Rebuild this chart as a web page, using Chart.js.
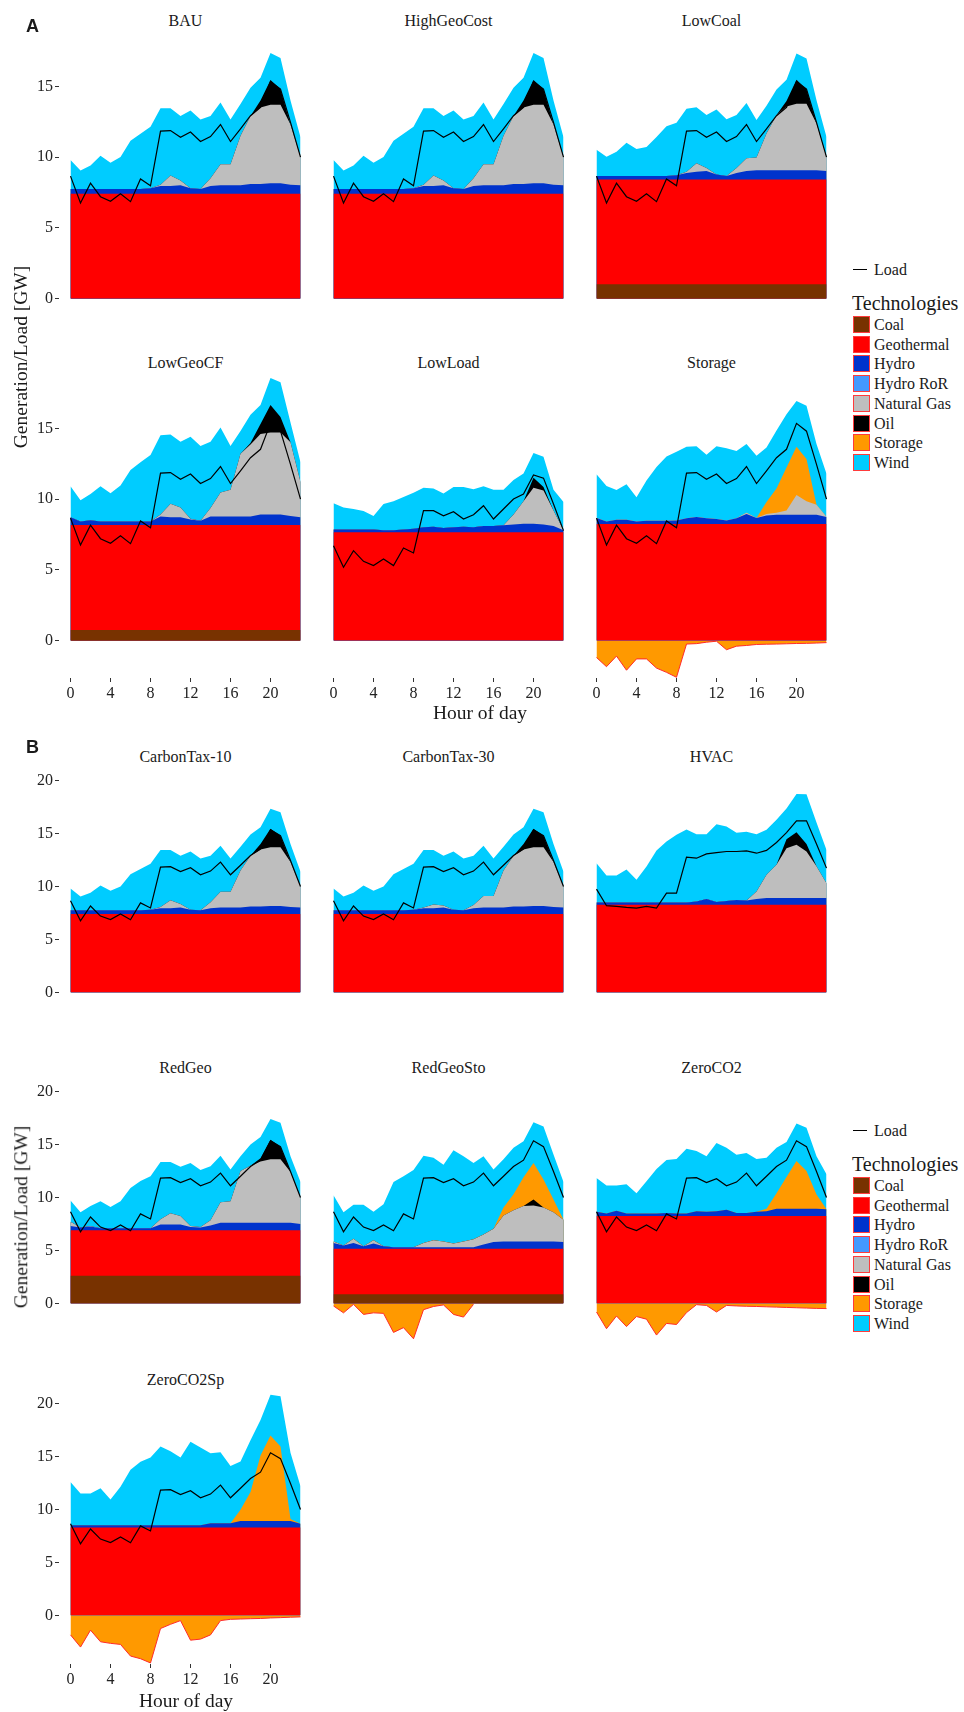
<!DOCTYPE html>
<html>
<head>
<meta charset="utf-8">
<script src="https://cdn.jsdelivr.net/npm/chart.js@4.4.0/dist/chart.umd.min.js"></script>
<style>
  html, body { margin: 0; padding: 0; background: #fff; }
  body { width: 964px; height: 1712px; position: relative; overflow: hidden;
         font-family: "Liberation Serif", "Times New Roman", serif; color: #1a1a1a; }
  .box { position: absolute; }
  .t { position: absolute; white-space: nowrap; line-height: 1; }
  .c { transform: translate(-50%, -50%); }
  .l { transform: translate(0, -50%); }
  .tag { font-family: "Liberation Sans", Arial, sans-serif; font-weight: bold; font-size: 18px; }
  .ttl { font-size: 16px; }
  .axt { font-size: 19.5px; }
  .rot { transform: translate(-50%, -50%) rotate(-90deg); }
  .key { position: absolute; width: 17px; height: 17px; box-sizing: border-box; border: 1px solid #ff3b3b; }
</style>
</head>
<body>
<script>
// hours and ticks
const hours = [0, 1, 2, 3, 4, 5, 6, 7, 8, 9, 10, 11, 12, 13, 14, 15, 16, 17, 18, 19, 20, 21, 22, 23];
const hourTicks = [0, 4, 8, 12, 16, 20];
const yTicksA = [0, 5, 10, 15];
const yTicksB = [0, 5, 10, 15, 20];

const techNames = ["Coal", "Geothermal", "Hydro", "Hydro RoR", "Natural Gas", "Oil", "Storage", "Wind"];
const techColors = ["#783200", "#FF0000", "#0033CC", "#4499FF", "#BEBEBE", "#000000", "#FF9900", "#00CCFF"];

// load profiles
const loadBase = [8.65, 6.75, 8.15, 7.2, 6.87, 7.4, 6.85, 8.45, 7.97, 11.83, 11.87, 11.4, 11.77, 11.1, 11.45, 12.3, 11.1, 12.0, 12.92, 13.52, 15.35, 14.8, 12.45, 10.0];
const loadLow = [6.7, 5.18, 6.35, 5.6, 5.3, 5.76, 5.3, 6.54, 6.19, 9.18, 9.18, 8.82, 9.1, 8.59, 8.89, 9.53, 8.59, 9.3, 10.0, 10.35, 11.7, 11.48, 9.65, 7.77];
const loadHvac = [9.75, 8.18, 8.11, 8.02, 7.96, 8.11, 7.96, 9.37, 9.37, 12.77, 12.67, 13.08, 13.2, 13.3, 13.3, 13.36, 13.14, 13.4, 14.15, 15.09, 16.2, 16.2, 14.0, 11.73];

// BAU (also HighGeoCost, CarbonTax-10)
const bauGeo = [7.4, 7.4, 7.4, 7.4, 7.4, 7.4, 7.4, 7.4, 7.4, 7.4, 7.4, 7.4, 7.4, 7.4, 7.4, 7.4, 7.4, 7.4, 7.4, 7.4, 7.4, 7.4, 7.4, 7.4];
const bauHydro = [0.35, 0.35, 0.35, 0.35, 0.35, 0.35, 0.35, 0.35, 0.4, 0.55, 0.55, 0.6, 0.4, 0.35, 0.55, 0.6, 0.6, 0.6, 0.7, 0.7, 0.75, 0.75, 0.65, 0.6];
const bauGas = [0, 0, 0, 0, 0, 0, 0, 0, 0, 0.1, 0.75, 0.35, 0, 0, 0.55, 1.5, 1.5, 3.5, 4.8, 5.4, 5.55, 5.55, 4.25, 2.0];
const bauOil = [0, 0, 0, 0, 0, 0, 0, 0, 0, 0, 0, 0, 0, 0, 0, 0, 0, 0, 0, 0.5, 1.75, 1.1, 0, 0];
const bauWind = [2.05, 1.3, 1.65, 2.35, 1.85, 2.25, 3.4, 3.9, 4.35, 5.4, 4.75, 4.55, 5.5, 4.9, 4.4, 4.35, 3.15, 2.25, 2.0, 1.6, 1.9, 2.2, 1.7, 1.4];

// CarbonTax-30
const ct30Gas = [0, 0, 0, 0, 0, 0, 0, 0, 0, 0.05, 0.35, 0.2, 0, 0, 0.3, 1.1, 1.1, 3.5, 4.8, 5.4, 5.55, 5.55, 4.25, 2.0];
const ct30Wind = [2.05, 1.3, 1.65, 2.35, 1.85, 2.25, 3.4, 3.9, 4.35, 5.45, 5.15, 4.7, 5.5, 4.9, 4.65, 4.75, 3.55, 2.25, 2.0, 1.6, 1.9, 2.2, 1.7, 1.4];

// LowCoal
const lcCoal = [1.0, 1.0, 1.0, 1.0, 1.0, 1.0, 1.0, 1.0, 1.0, 1.0, 1.0, 1.0, 1.0, 1.0, 1.0, 1.0, 1.0, 1.0, 1.0, 1.0, 1.0, 1.0, 1.0, 1.0];
const lcGeo = [7.42, 7.42, 7.42, 7.42, 7.42, 7.42, 7.42, 7.42, 7.42, 7.42, 7.42, 7.42, 7.42, 7.42, 7.42, 7.42, 7.42, 7.42, 7.42, 7.42, 7.42, 7.42, 7.42, 7.42];
const lcHydro = [0.25, 0.25, 0.25, 0.25, 0.25, 0.25, 0.25, 0.25, 0.3, 0.45, 0.55, 0.6, 0.35, 0.25, 0.45, 0.6, 0.65, 0.65, 0.65, 0.65, 0.65, 0.65, 0.65, 0.6];
const lcGas = [0, 0, 0, 0, 0, 0, 0, 0, 0, 0.1, 0.6, 0.2, 0, 0, 0.35, 0.9, 0.9, 2.6, 3.9, 4.5, 4.7, 4.7, 3.3, 1.0];
const lcOil = [0, 0, 0, 0, 0, 0, 0, 0, 0, 0, 0, 0, 0, 0, 0, 0, 0, 0, 0, 0.4, 1.7, 1.0, 0, 0];
const lcWind = [1.85, 1.35, 1.7, 2.35, 1.9, 2.05, 2.75, 3.5, 3.7, 4.45, 3.95, 3.75, 4.6, 4.0, 3.75, 3.9, 2.65, 1.95, 1.8, 1.5, 1.85, 2.2, 1.65, 1.4];

// LowGeoCF
const lgCoal = [0.75, 0.75, 0.75, 0.75, 0.75, 0.75, 0.75, 0.75, 0.75, 0.75, 0.75, 0.75, 0.75, 0.75, 0.75, 0.75, 0.75, 0.75, 0.75, 0.75, 0.75, 0.75, 0.75, 0.75];
const lgGeo = [7.41, 7.41, 7.41, 7.41, 7.41, 7.41, 7.41, 7.41, 7.41, 7.41, 7.41, 7.41, 7.41, 7.41, 7.41, 7.41, 7.41, 7.41, 7.41, 7.41, 7.41, 7.41, 7.41, 7.41];
const lgHydro = [0.55, 0.25, 0.35, 0.25, 0.25, 0.25, 0.25, 0.25, 0.25, 0.6, 0.55, 0.55, 0.4, 0.3, 0.6, 0.6, 0.6, 0.6, 0.6, 0.74, 0.74, 0.74, 0.65, 0.55];
const lgGas = [0, 0, 0, 0, 0, 0, 0, 0, 0, 0.15, 0.95, 0.7, 0.05, 0, 0.6, 1.7, 1.9, 4.45, 5.1, 5.7, 5.8, 5.8, 5.2, 2.5];
const lgOil = [0, 0, 0, 0, 0, 0, 0, 0, 0, 0, 0, 0, 0, 0, 0, 0, 0, 0, 0.1, 0.7, 1.95, 1.1, 0, 0];
const lgWind = [2.2, 1.5, 1.85, 2.5, 2.0, 2.55, 3.65, 4.2, 4.7, 5.6, 4.9, 4.65, 5.8, 5.3, 4.7, 4.6, 3.1, 1.6, 2.0, 1.35, 1.9, 2.45, 1.4, 1.4];

// LowLoad
const llGeo = [7.65, 7.65, 7.65, 7.65, 7.65, 7.65, 7.65, 7.65, 7.65, 7.65, 7.65, 7.65, 7.65, 7.65, 7.65, 7.65, 7.65, 7.65, 7.65, 7.65, 7.65, 7.65, 7.65, 7.65];
const llHydro = [0.2, 0.2, 0.2, 0.2, 0.2, 0.15, 0.15, 0.2, 0.25, 0.35, 0.4, 0.3, 0.35, 0.4, 0.35, 0.45, 0.45, 0.5, 0.55, 0.6, 0.6, 0.55, 0.45, 0.15];
const llGas = [0, 0, 0, 0, 0, 0, 0, 0, 0, 0, 0, 0, 0, 0, 0, 0, 0, 0, 0.7, 1.6, 2.55, 2.4, 1.1, 0];
const llOil = [0, 0, 0, 0, 0, 0, 0, 0, 0, 0, 0, 0, 0, 0, 0, 0, 0, 0, 0, 0, 0.7, 0.25, 0, 0];
const llWind = [1.85, 1.55, 1.45, 1.3, 0.95, 1.85, 2.05, 2.3, 2.55, 2.8, 2.7, 2.45, 2.85, 2.8, 2.7, 2.8, 2.55, 2.5, 2.45, 1.95, 1.75, 2.15, 1.45, 2.0];

// Storage
const stGeo = [8.24, 8.24, 8.24, 8.24, 8.24, 8.24, 8.24, 8.24, 8.24, 8.24, 8.24, 8.24, 8.24, 8.24, 8.24, 8.24, 8.24, 8.24, 8.24, 8.24, 8.24, 8.24, 8.24, 8.24];
const stHydro = [0.42, 0.18, 0.3, 0.3, 0.18, 0.22, 0.22, 0.22, 0.25, 0.4, 0.5, 0.4, 0.35, 0.25, 0.4, 0.7, 0.42, 0.6, 0.65, 0.65, 0.65, 0.65, 0.65, 0.5];
const stGas = [0, 0, 0, 0, 0, 0, 0, 0, 0, 0, 0, 0, 0, 0, 0, 0.1, 0, 0.1, 0.15, 0.3, 1.4, 0.95, 0.7, 0];
const stStoPos = [0, 0, 0, 0, 0, 0, 0, 0, 0, 0, 0, 0, 0, 0, 0, 0, 0, 0.85, 1.7, 3.05, 3.4, 3.0, 0, 0];
const stStoNeg = [-1.2, -1.85, -1.1, -2.1, -1.3, -1.3, -1.95, -2.25, -2.6, -0.25, -0.22, -0.12, -0.05, -0.65, -0.4, -0.35, -0.28, -0.26, -0.25, -0.23, -0.21, -0.2, -0.18, -0.15];
const stWind = [3.1, 2.5, 2.1, 2.5, 1.7, 2.85, 3.8, 4.55, 4.85, 5.05, 5.0, 4.5, 5.15, 5.1, 4.75, 4.85, 4.4, 3.85, 4.1, 3.75, 3.25, 3.75, 4.3, 3.05];

// HVAC
const hvGeo = [8.27, 8.27, 8.27, 8.27, 8.27, 8.27, 8.27, 8.27, 8.27, 8.27, 8.27, 8.27, 8.27, 8.27, 8.27, 8.27, 8.27, 8.27, 8.27, 8.27, 8.27, 8.27, 8.27, 8.27];
const hvHydro = [0.22, 0.22, 0.22, 0.22, 0.22, 0.22, 0.22, 0.22, 0.22, 0.22, 0.3, 0.55, 0.25, 0.35, 0.45, 0.4, 0.55, 0.63, 0.63, 0.63, 0.63, 0.63, 0.63, 0.63];
const hvGas = [0, 0, 0, 0, 0, 0, 0, 0, 0, 0, 0, 0, 0, 0, 0, 0, 0.7, 2.2, 3.14, 4.7, 5.03, 4.4, 3.0, 1.4];
const hvOil = [0, 0, 0, 0, 0, 0, 0, 0, 0, 0, 0, 0, 0, 0, 0, 0, 0, 0, 0, 0.87, 1.2, 0.7, 0, 0];
const hvWind = [3.7, 2.55, 2.55, 3.1, 2.15, 3.4, 4.9, 5.75, 6.4, 6.9, 6.35, 6.1, 7.35, 7.05, 6.35, 6.5, 5.4, 4.25, 4.25, 2.9, 3.6, 4.7, 4.15, 3.15];

// RedGeo
const rgCoal = [2.6, 2.6, 2.6, 2.6, 2.6, 2.6, 2.6, 2.6, 2.6, 2.6, 2.6, 2.6, 2.6, 2.6, 2.6, 2.6, 2.6, 2.6, 2.6, 2.6, 2.6, 2.6, 2.6, 2.6];
const rgGeo = [4.3, 4.3, 4.3, 4.3, 4.3, 4.3, 4.3, 4.3, 4.3, 4.3, 4.3, 4.3, 4.3, 4.3, 4.3, 4.3, 4.3, 4.3, 4.3, 4.3, 4.3, 4.3, 4.3, 4.3];
const rgHydro = [0.4, 0.25, 0.35, 0.2, 0.2, 0.2, 0.2, 0.2, 0.2, 0.55, 0.55, 0.55, 0.3, 0.25, 0.45, 0.7, 0.7, 0.7, 0.7, 0.7, 0.7, 0.7, 0.7, 0.6];
const rgGas = [0.4, 0, 0.05, 0, 0, 0, 0, 0, 0, 0.5, 1.05, 0.8, 0.1, 0.05, 0.5, 1.95, 2.05, 4.9, 5.4, 5.8, 6.0, 6.0, 4.8, 2.5];
const rgOil = [0, 0, 0, 0, 0, 0, 0, 0, 0, 0, 0, 0, 0, 0, 0, 0, 0, 0, 0, 0.3, 1.85, 1.2, 0, 0];
const rgWind = [2.0, 1.45, 1.9, 2.55, 2.0, 2.55, 3.8, 4.45, 4.9, 5.4, 4.85, 4.65, 5.95, 5.4, 5.1, 4.4, 3.0, 1.4, 2.0, 2.0, 1.95, 2.25, 1.5, 1.45];

// RedGeoSto
const rsCoal = [0.85, 0.85, 0.85, 0.85, 0.85, 0.85, 0.85, 0.85, 0.85, 0.85, 0.85, 0.85, 0.85, 0.85, 0.85, 0.85, 0.85, 0.85, 0.85, 0.85, 0.85, 0.85, 0.85, 0.85];
const rsGeo = [4.3, 4.3, 4.3, 4.3, 4.3, 4.3, 4.3, 4.3, 4.3, 4.3, 4.3, 4.3, 4.3, 4.3, 4.3, 4.3, 4.3, 4.3, 4.3, 4.3, 4.3, 4.3, 4.3, 4.3];
const rsHydro = [0.55, 0.3, 0.55, 0.25, 0.5, 0.25, 0.15, 0.15, 0.15, 0.15, 0.15, 0.15, 0.15, 0.15, 0.15, 0.4, 0.65, 0.7, 0.7, 0.7, 0.7, 0.7, 0.7, 0.65];
const rsGas = [0.15, 0, 0.4, 0, 0.3, 0, 0, 0, 0, 0.4, 0.65, 0.55, 0.35, 0.55, 0.75, 0.95, 1.25, 2.45, 2.95, 3.35, 3.4, 3.2, 2.75, 2.1];
const rsOil = [0, 0, 0, 0, 0, 0, 0, 0, 0, 0, 0, 0, 0, 0, 0, 0, 0, 0, 0, 0, 0.55, 0, 0, 0];
const rsStoPos = [0, 0, 0, 0, 0, 0, 0, 0, 0, 0, 0, 0, 0, 0, 0, 0, 0, 0.75, 1.5, 2.7, 3.45, 2.65, 1.2, 0];
const rsStoNeg = [-0.25, -0.9, -0.1, -1.05, -0.9, -0.95, -2.75, -2.3, -3.35, -0.6, -0.3, -0.15, -1.05, -1.3, -0.1, null, null, null, null, null, null, null, null, null];
const rsWind = [4.35, 3.15, 3.2, 3.9, 2.7, 3.95, 6.15, 6.7, 7.3, 8.25, 7.8, 7.25, 8.8, 8.05, 7.2, 7.4, 5.6, 4.55, 4.4, 3.4, 3.85, 5.0, 4.25, 3.55];

// ZeroCO2
const zcGeo = [8.24, 8.24, 8.24, 8.24, 8.24, 8.24, 8.24, 8.24, 8.24, 8.24, 8.24, 8.24, 8.24, 8.24, 8.24, 8.24, 8.24, 8.24, 8.24, 8.24, 8.24, 8.24, 8.24, 8.24];
const zcHydro = [0.4, 0.25, 0.5, 0.25, 0.25, 0.25, 0.25, 0.3, 0.25, 0.25, 0.45, 0.4, 0.45, 0.6, 0.3, 0.3, 0.4, 0.45, 0.7, 0.7, 0.7, 0.7, 0.7, 0.65];
const zcStoPos = [0, 0, 0, 0, 0, 0, 0, 0, 0, 0, 0, 0, 0, 0, 0, 0, 0, 0.25, 1.45, 3.0, 4.5, 3.55, 1.35, 0];
const zcStoNeg = [-0.82, -2.4, -1.2, -2.2, -1.25, -1.5, -3.0, -1.9, -2.0, -0.88, -0.13, -0.2, -0.82, -0.2, -0.25, -0.28, -0.3, -0.33, -0.36, -0.39, -0.42, -0.45, -0.48, -0.5];
const zcWind = [3.2, 2.65, 2.4, 2.75, 1.9, 3.05, 4.2, 5.0, 5.15, 6.1, 5.7, 5.25, 6.45, 5.85, 5.5, 5.65, 5.0, 4.8, 4.3, 3.3, 3.55, 4.1, 3.6, 3.3];

// ZeroCO2Sp
const zsGeo = [8.3, 8.3, 8.3, 8.3, 8.3, 8.3, 8.3, 8.3, 8.3, 8.3, 8.3, 8.3, 8.3, 8.3, 8.3, 8.3, 8.3, 8.3, 8.3, 8.3, 8.3, 8.3, 8.3, 8.3];
const zsHydro = [0.2, 0.2, 0.2, 0.2, 0.2, 0.2, 0.2, 0.2, 0.2, 0.2, 0.2, 0.2, 0.2, 0.2, 0.4, 0.4, 0.4, 0.6, 0.6, 0.6, 0.6, 0.6, 0.6, 0.35];
const zsStoPos = [0, 0, 0, 0, 0, 0, 0, 0, 0, 0, 0, 0, 0, 0, 0, 0, 0, 1.07, 2.74, 6.2, 8.08, 7.04, 0.2, 0];
const zsStoNeg = [-1.85, -3.0, -1.4, -2.5, -2.65, -2.75, -3.85, -4.1, -4.5, -1.25, -0.85, -0.5, -2.35, -2.25, -1.85, -0.5, -0.38, -0.35, -0.32, -0.3, -0.25, -0.22, -0.18, -0.15];
const zsWind = [4.1, 3.0, 3.0, 3.5, 2.45, 3.65, 5.25, 6.0, 6.4, 7.45, 7.0, 6.4, 7.9, 7.35, 6.6, 6.7, 5.4, 4.55, 4.9, 3.35, 3.85, 4.75, 6.25, 3.55];

// panel list (group, row, col, whether the x axis is shown)
const panels = [
    { name: "BAU", group: "A", row: 0, col: 0, xAxis: false, load: loadBase, geo: bauGeo, hydro: bauHydro, gas: bauGas, oil: bauOil, wind: bauWind },
    { name: "HighGeoCost", group: "A", row: 0, col: 1, xAxis: false, load: loadBase, geo: bauGeo, hydro: bauHydro, gas: bauGas, oil: bauOil, wind: bauWind },
    { name: "LowCoal", group: "A", row: 0, col: 2, xAxis: false, load: loadBase, coal: lcCoal, geo: lcGeo, hydro: lcHydro, gas: lcGas, oil: lcOil, wind: lcWind },
    { name: "LowGeoCF", group: "A", row: 1, col: 0, xAxis: true, load: loadBase, coal: lgCoal, geo: lgGeo, hydro: lgHydro, gas: lgGas, oil: lgOil, wind: lgWind },
    { name: "LowLoad", group: "A", row: 1, col: 1, xAxis: true, load: loadLow, geo: llGeo, hydro: llHydro, gas: llGas, oil: llOil, wind: llWind },
    { name: "Storage", group: "A", row: 1, col: 2, xAxis: true, load: loadBase, geo: stGeo, hydro: stHydro, gas: stGas, stoPos: stStoPos, wind: stWind, stoNeg: stStoNeg },
    { name: "CarbonTax-10", group: "B", row: 0, col: 0, xAxis: false, load: loadBase, geo: bauGeo, hydro: bauHydro, gas: bauGas, oil: bauOil, wind: bauWind },
    { name: "CarbonTax-30", group: "B", row: 0, col: 1, xAxis: false, load: loadBase, geo: bauGeo, hydro: bauHydro, gas: ct30Gas, oil: bauOil, wind: ct30Wind },
    { name: "HVAC", group: "B", row: 0, col: 2, xAxis: false, load: loadHvac, geo: hvGeo, hydro: hvHydro, gas: hvGas, oil: hvOil, wind: hvWind },
    { name: "RedGeo", group: "B", row: 1, col: 0, xAxis: false, load: loadBase, coal: rgCoal, geo: rgGeo, hydro: rgHydro, gas: rgGas, oil: rgOil, wind: rgWind },
    { name: "RedGeoSto", group: "B", row: 1, col: 1, xAxis: false, load: loadBase, coal: rsCoal, geo: rsGeo, hydro: rsHydro, gas: rsGas, oil: rsOil, stoPos: rsStoPos, wind: rsWind, stoNeg: rsStoNeg },
    { name: "ZeroCO2", group: "B", row: 1, col: 2, xAxis: false, load: loadBase, geo: zcGeo, hydro: zcHydro, stoPos: zcStoPos, wind: zcWind, stoNeg: zcStoNeg },
    { name: "ZeroCO2Sp", group: "B", row: 2, col: 0, xAxis: true, load: loadBase, geo: zsGeo, hydro: zsHydro, stoPos: zsStoPos, wind: zsWind, stoNeg: zsStoNeg },
];

// layout
const groups = {
    A: { min: -2.65, max: 18.7, px: 14.14, zeros: [298, 640], ticks: yTicksA },
    B: { min: -4.6, max: 21.0, px: 10.6, zeros: [992.7, 1304, 1615.3], ticks: yTicksB },
};
const colLeft = [59, 322, 585];
const plotW = 253;
const serif = "'Liberation Serif', 'Times New Roman', serif";

function color(name) {
    return techColors[techNames.indexOf(name)];
}

function pts(values) {
    return values.map((v, i) => ({ x: hours[i], y: v }));
}

function text(str, cls, x, y) {
    const d = document.createElement("div");
    d.className = "t " + cls;
    d.textContent = str;
    d.style.left = x + "px";
    d.style.top = y + "px";
    document.body.appendChild(d);
    return d;
}

// keep the plot area exactly where the box says: no label padding
function fixSize(s, w, h) {
    if (w !== null) s.width = w;
    if (h !== null) s.height = h;
    s.paddingTop = 0;
    s.paddingBottom = 0;
    s.paddingLeft = 0;
    s.paddingRight = 0;
}

panels.forEach((p) => {
    const g = groups[p.group];
    const zero = g.zeros[p.row];
    const top = Math.round(zero - g.max * g.px);
    const h = Math.round((g.max - g.min) * g.px);
    const showY = p.col === 0;
    const yW = showY ? 59 : 0;
    const xH = p.xAxis ? 30 : 0;

    // fixed-size box, the chart fills it
    const box = document.createElement("div");
    box.className = "box";
    box.style.left = colLeft[p.col] - yW + "px";
    box.style.top = top + "px";
    box.style.width = plotW + yW + "px";
    box.style.height = h + xH + "px";
    const canvas = document.createElement("canvas");
    box.appendChild(canvas);
    document.body.appendChild(box);

    text(p.name, "c ttl", colLeft[p.col] + 126.5, top - 13);

    const datasets = [
        { label: "Load", data: pts(p.load), stack: "load", borderColor: "#000", borderWidth: 1.2, fill: false },
    ];
    const series = [
        ["Coal", p.coal], ["Geothermal", p.geo], ["Hydro", p.hydro], ["Natural Gas", p.gas],
        ["Oil", p.oil], ["Storage", p.stoPos], ["Wind", p.wind],
    ];
    series.forEach(([name, vals]) => {
        if (!vals) return;
        datasets.push({ label: name, data: pts(vals), stack: "gen", backgroundColor: color(name), borderWidth: 0, fill: "origin" });
    });
    if (p.stoNeg) {
        datasets.push({ label: "Storage", data: pts(p.stoNeg), stack: "neg", backgroundColor: color("Storage"),
            borderColor: "#FF2A2A", borderWidth: 1, fill: "origin" });
    }

    new Chart(canvas, {
        type: "line",
        data: { datasets },
        options: {
            responsive: true,
            maintainAspectRatio: false,
            animation: false,
            events: [],
            layout: { padding: 0 },
            plugins: { legend: { display: false }, tooltip: { enabled: false } },
            elements: { point: { radius: 0 }, line: { tension: 0 } },
            scales: {
                x: {
                    type: "linear", min: -1.15, max: 24.15, display: p.xAxis,
                    afterBuildTicks: (s) => { s.ticks = hourTicks.map((v) => ({ value: v })); },
                    afterFit: (s) => fixSize(s, null, xH),
                    grid: { drawOnChartArea: false, tickLength: 4, color: "#333" },
                    border: { display: false },
                    ticks: { font: { family: serif, size: 16 }, color: "#222", padding: 2, maxRotation: 0, autoSkip: false },
                },
                y: {
                    type: "linear", stacked: true, min: g.min, max: g.max, display: showY,
                    afterBuildTicks: (s) => { s.ticks = g.ticks.map((v) => ({ value: v })); },
                    afterFit: (s) => fixSize(s, yW, null),
                    grid: { drawOnChartArea: false, tickLength: 4, color: "#333" },
                    border: { display: false },
                    ticks: { font: { family: serif, size: 16 }, color: "#222", padding: 2, autoSkip: false },
                },
            },
        },
    });
});

// panel letters and axis titles
text("A", "l tag", 26, 26);
text("B", "l tag", 26, 747);
text("Generation/Load [GW]", "rot axt", 21, 357);
text("Generation/Load [GW]", "rot axt", 21, 1217);
text("Hour of day", "c axt", 480, 713);
text("Hour of day", "c axt", 186, 1701);

// legends
[0, 861].forEach((dy) => {
    const ln = document.createElement("div");
    ln.style.cssText = `position:absolute;left:853px;top:${269 + dy}px;width:14px;border-top:1.3px solid #000;`;
    document.body.appendChild(ln);
    text("Load", "l", 874, 270 + dy).style.fontSize = "16px";
    text("Technologies", "l", 852, 303 + dy).style.fontSize = "20px";
    techNames.forEach((name, i) => {
        const y = 316 + dy + i * 19.7;
        const k = document.createElement("div");
        k.className = "key";
        k.style.left = "853px";
        k.style.top = y + "px";
        k.style.background = techColors[i];
        document.body.appendChild(k);
        text(name, "l", 874, y + 9).style.fontSize = "16px";
    });
});
</script>
</body>
</html>
